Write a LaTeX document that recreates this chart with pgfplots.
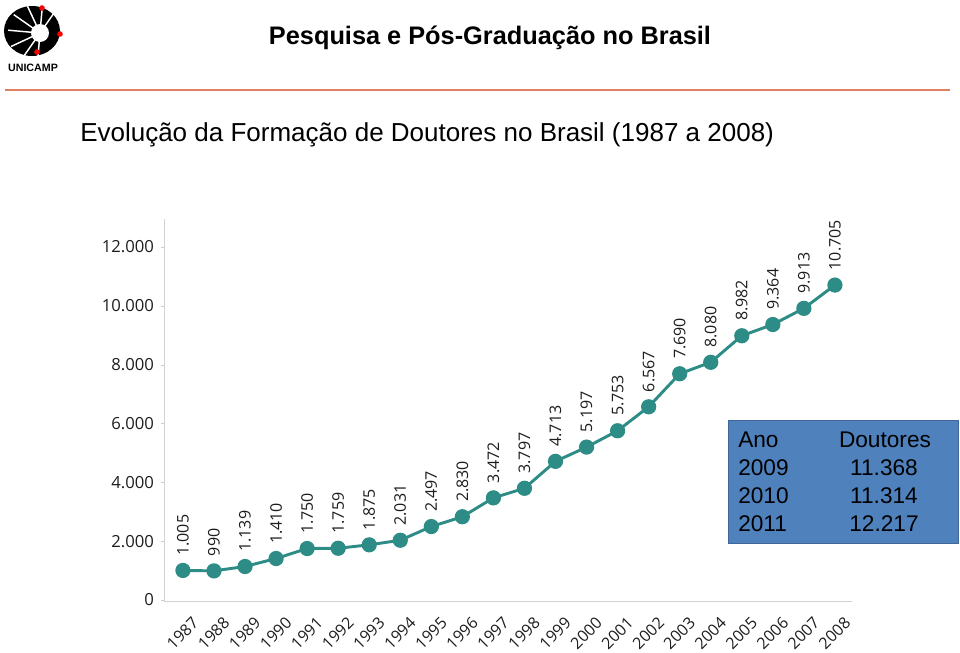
\documentclass[border=0pt]{standalone}
\usepackage{pgfplots}
\pgfplotsset{compat=1.18}
\usepackage{fontspec}
\setmainfont{Liberation Sans}
\newfontfamily\chartfont{Open Sans}
\definecolor{lineteal}{RGB}{45,140,134}
\definecolor{boxblue}{RGB}{79,129,189}
\definecolor{rulecol}{RGB}{224,128,96}
\definecolor{labelcol}{RGB}{30,28,28}

\pgfplotstableread{
ano doutores
1987 1005
1988 990
1989 1139
1990 1410
1991 1750
1992 1759
1993 1875
1994 2031
1995 2497
1996 2830
1997 3472
1998 3797
1999 4713
2000 5197
2001 5753
2002 6567
2003 7690
2004 8080
2005 8982
2006 9364
2007 9913
2008 10705
}\doutores

\begin{document}
\begin{tikzpicture}[x=0.75pt,y=-0.75pt]
\useasboundingbox (0,0) rectangle (960,653);

% logo
\fill[black] (32,31) ellipse [x radius=28, y radius=25];
\fill[white] (40,33) circle [radius=9];
\foreach \a in {95,125,...,305}
  \draw[white, line width=1.1pt] (40,33) -- ++(\a:32);
\fill[red] (42,8) circle [radius=2.8];
\fill[red] (60,34) circle [radius=2.8];
\fill[red] (37,52) circle [radius=2.8];
\node[font=\bfseries\fontsize{8}{9}\selectfont] at (33,68) {UNICAMP};

% titles
\node[font=\bfseries\fontsize{19}{22}\selectfont] at (490,38) {Pesquisa e Pós-Graduação no Brasil};
\draw[rulecol, line width=1.4pt] (5,90) -- (950,90);
\node[anchor=west, inner sep=0pt, font=\fontsize{19.5}{24}\selectfont] at (80,135)
  {Evolução da Formação de Doutores no Brasil (1987 a 2008)};

\begin{axis}[
    at={(123pt,-450.75pt)}, anchor=south west,
    width=516pt, height=286.5pt, scale only axis,
    xmin=1986.39, xmax=2008.55,
    ymin=-34, ymax=12950,
    axis x line=bottom, axis y line=left,
    axis line style={-, gray!35, line width=0.7pt},
    xtick={1987,...,2008},
    ytick={0,2000,...,12000},
    scaled y ticks=false,
    major x tick style={draw=none},
    major y tick style={gray!40},
    tick align=outside, major tick length=2pt,
    /pgf/number format/assume math mode=true,
    ticklabel style={font=\chartfont\fontsize{12}{14}\selectfont, text=labelcol},
    yticklabel style={font=\chartfont\fontsize{12.5}{14}\selectfont, xshift=-2pt},
    yticklabel={\pgfmathprintnumber[fixed,precision=0,1000 sep={.}]{\tick}},
    xticklabel={\pgfmathprintnumber[fixed,precision=0,1000 sep={}]{\tick}},
    xticklabel style={rotate=45, anchor=north east, inner sep=1pt, yshift=-10pt, xshift=-1pt},
    clip=false,
  ]
  \addplot[lineteal, line width=2.2pt, mark=*, mark size=4.6pt,
    mark options={fill=lineteal, draw=lineteal},
    nodes near coords={\pgfmathprintnumber[fixed,precision=0,1000 sep={.}]{\pgfplotspointmeta}},
    every node near coord/.append style={rotate=90, anchor=west, inner xsep=10pt,
      inner ysep=1pt, text=labelcol, font=\chartfont\fontsize{12}{14}\selectfont}]
    table[x=ano, y=doutores] {\doutores};
\end{axis}

% table box
\fill[boxblue] (728,420) rectangle (958,543);
\draw[boxblue!80!black, line width=0.4pt] (728,420) rectangle (958,543);
\begin{scope}[every node/.style={font=\fontsize{17}{20}\selectfont, inner sep=0pt, text=black}]
  \node[anchor=west] at (738,440) {Ano};
  \node at (885,440) {Doutores};
  \node[anchor=west] at (738,468) {2009};
  \node at (884,468) {11.368};
  \node[anchor=west] at (738,496) {2010};
  \node at (884,496) {11.314};
  \node[anchor=west] at (738,524) {2011};
  \node at (884,524) {12.217};
\end{scope}
\end{tikzpicture}
\end{document}
